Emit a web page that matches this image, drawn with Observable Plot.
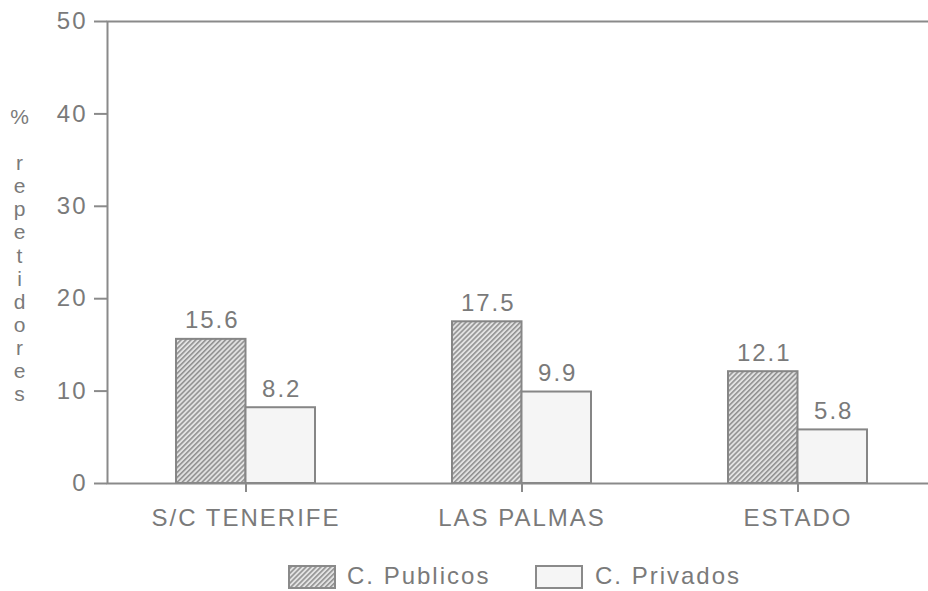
<!DOCTYPE html>
<html>
<head>
<meta charset="utf-8">
<script src="https://cdn.jsdelivr.net/npm/d3@7"></script>
<script src="https://cdn.jsdelivr.net/npm/@observablehq/plot@0.6"></script>
<style>
  html, body { margin: 0; padding: 0; background: #fff; overflow: hidden; }
  #wrap { position: relative; width: 928px; height: 591px; overflow: hidden; }
  #wrap svg { max-width: none !important; }
  #wrap svg text { letter-spacing: 2px; }
  #wrap svg g[aria-label="y-axis tick"] path,
  #wrap svg g[aria-label="x-axis tick"] path { stroke-width: 2; stroke: #8a8a8a; }
  #legend { position: absolute; top: 563px; left: 0; width: 928px; height: 28px;
    font-family: "Liberation Sans", Arial, sans-serif; font-size: 24px; color: #7a7a7a; letter-spacing: 2px; }
  #legend .sw { position: absolute; top: 2px; width: 44px; height: 20px; border: 2px solid #8a8a8a; box-sizing: content-box; }
  #legend .lb { position: absolute; top: -1px; line-height: 28px; white-space: nowrap; }
</style>
</head>
<body>
<svg width="0" height="0" style="position:absolute">
  <defs>
    <pattern id="hatch" width="3.5" height="3.5" patternUnits="userSpaceOnUse" patternTransform="rotate(45)">
      <rect width="3.5" height="3.5" fill="#e2e2e2"></rect>
      <line x1="0.8" y1="0" x2="0.8" y2="3.5" stroke="#8c8c8c" stroke-width="1.5"></line>
    </pattern>
  </defs>
</svg>
<div id="wrap">
  <div id="chart"></div>
  <div id="legend"></div>
</div>
<script>
const categories = ["S/C TENERIFE", "LAS PALMAS", "ESTADO"];
const series = ["C. Publicos", "C. Privados"];
const publicos = [15.6, 17.5, 12.1];
const privados = [8.2, 9.9, 5.8];
const yTicks = [0, 10, 20, 30, 40, 50];
const yLabel = "%\n\nr\ne\np\ne\nt\ni\nd\no\nr\ne\ns";

const pubData = categories.map((c, i) => ({category: c, series: series[0], value: publicos[i]}));
const privData = categories.map((c, i) => ({category: c, series: series[1], value: privados[i]}));

const W = 936, H = 540, ML = 107, MR = 0, MT = 21, MB = 57;
const PI = 0.497, PO = 0.2485;
const xOpts = {domain: categories, paddingInner: PI, paddingOuter: PO};
const step = (W - MR - ML) / (categories.length - PI + 2 * PO);
const bw = step * (1 - PI);
const fmt = d3.format(".1f");

const chart = Plot.plot({
  width: W, height: H,
  marginLeft: ML, marginRight: MR, marginTop: MT, marginBottom: MB,
  style: {fontFamily: "Liberation Sans, Arial, sans-serif", fontSize: "24px", color: "#7a7a7a", background: "white", maxWidth: "none"},
  x: {...xOpts, label: null, tickSize: 9, tickPadding: 16},
  y: {domain: [0, 50], ticks: yTicks, tickSize: 13, tickPadding: 7, label: null},
  marks: [
    Plot.barY(pubData, {x: "category", y1: 0, y2: "value", fill: "url(#hatch)", stroke: "#868686", strokeWidth: 2, insetRight: bw / 2}),
    Plot.barY(privData, {x: "category", y1: 0, y2: "value", fill: "#f5f5f5", stroke: "#868686", strokeWidth: 2, insetLeft: bw / 2}),
    Plot.text(pubData, {x: "category", y: "value", text: d => fmt(d.value), dx: -bw / 4 + 1, dy: -11, lineAnchor: "bottom", fill: "#7a7a7a"}),
    Plot.text(privData, {x: "category", y: "value", text: d => fmt(d.value), dx: bw / 4 + 1, dy: -11, lineAnchor: "bottom", fill: "#7a7a7a"}),
    Plot.frame({stroke: "#8a8a8a", strokeWidth: 2}),
    Plot.text([yLabel], {text: d => d, frameAnchor: "top-left", dx: -87, dy: 86, textAnchor: "middle", lineAnchor: "top", lineHeight: 1.1, fontSize: 21, fill: "#7a7a7a"})
  ]
});
document.getElementById("chart").appendChild(chart);

const legend = document.getElementById("legend");
const items = [
  {label: series[0], fill: "url(#hatch)", sw: 288, lb: 347},
  {label: series[1], fill: "#f5f5f5", sw: 535, lb: 595}
];
for (const it of items) {
  const sw = document.createElement("div");
  sw.className = "sw";
  sw.style.left = it.sw + "px";
  sw.innerHTML = `<svg width="44" height="20" style="display:block"><rect width="44" height="20" fill="${it.fill}"></rect></svg>`;
  legend.appendChild(sw);
  const lb = document.createElement("div");
  lb.className = "lb";
  lb.style.left = it.lb + "px";
  lb.textContent = it.label;
  legend.appendChild(lb);
}
</script>
</body>
</html>
